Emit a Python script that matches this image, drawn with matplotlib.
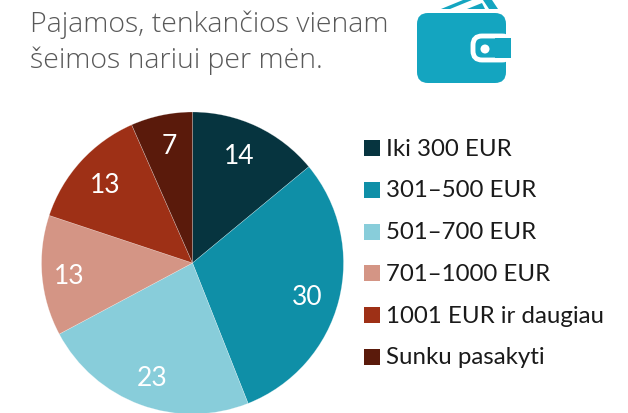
import matplotlib
matplotlib.use('Agg')
import numpy as np
import matplotlib.pyplot as plt
from matplotlib.patches import Rectangle, FancyBboxPatch, Polygon, Circle

plt.rcParams['font.family'] = ['Lato', 'DejaVu Sans']

labels = ['Iki 300 EUR', '301–500 EUR', '501–700 EUR', '701–1000 EUR', '1001 EUR ir daugiau', 'Sunku pasakyti']
# slices, the printed numbers are these rounded
values = [14.0, 30.0, 23.2, 12.9, 13.3, 6.6]
colors = ['#06343F', '#0F8FA7', '#88CDDA', '#D49585', '#9E3016', '#5A1A0B']
title_lines = ['Pajamos, tenkančios vienam', 'šeimos nariui per mėn.']

W, H = 628, 413
fig = plt.figure(figsize=(W / 100, H / 100), dpi=100)

# pie axes, centre about 192.5,263 radius 151
ax = fig.add_axes([(192.5 - 151) / W, 1 - (263 + 151) / H, 302 / W, 302 / H])
ax.pie(values, colors=colors, startangle=90, counterclock=False, radius=1.0,
       wedgeprops={'edgecolor': '#ffffff60', 'linewidth': 0.4})
ax.set_xlim(-1, 1)
ax.set_ylim(-1, 1)

label_r = [0.785, 0.787, 0.793, 0.823, 0.785, 0.80]
label_nudge = [-2.1, 1.2, -0.4, -0.2, 0.1, 0.9]  # degrees
total = sum(values)
start = 0
for v, r, n in zip(values, label_r, label_nudge):
    a = np.radians((start + v / 2) / total * 360 + n)
    ax.text(r * np.sin(a), r * np.cos(a), str(round(v)), color='white', fontsize=19,
            ha='center', va='center_baseline')
    start += v

bg = fig.add_axes([0, 0, 1, 1])
bg.set_xlim(0, W)
bg.set_ylim(H, 0)
bg.axis('off')
bg.patch.set_alpha(0)

for i, line in enumerate(title_lines):
    bg.text(30, 25 + i * 36, line, fontsize=20.5, color='#595959', va='center', ha='left',
            family='Open Sans', fontweight='light')

# legend
for i, (lab, c) in enumerate(zip(labels, colors)):
    y = 148 + i * 41.8
    bg.add_patch(Rectangle((364, y - 8), 16, 16, color=c, lw=0))
    bg.text(386, y + 1, lab, fontsize=17.3, color='#1a1a1a', va='center', ha='left')

# wallet icon
teal = '#14A5C0'
bg.add_patch(Polygon([[441, 9], [463, 0], [472, 0], [450, 9]], color=teal, lw=0))
bg.add_patch(Polygon([[467, 9], [482, 3], [485, 9]], color=teal, lw=0))
bg.add_patch(Polygon([[483, 0], [492, 0], [498, 9], [489, 9]], color=teal, lw=0))
bg.add_patch(FancyBboxPatch((417, 13), 89, 70, boxstyle='round,pad=0,rounding_size=11', color=teal, lw=0))
bg.add_patch(FancyBboxPatch((473, 36), 38, 24, boxstyle='round,pad=0,rounding_size=9', fc=teal, ec='white', lw=3.5))
bg.add_patch(Rectangle((495, 38), 16, 20, color=teal, lw=0))
bg.add_patch(Circle((485, 49), 4.5, color='white', lw=0))

fig.savefig('out.png', dpi=100)
